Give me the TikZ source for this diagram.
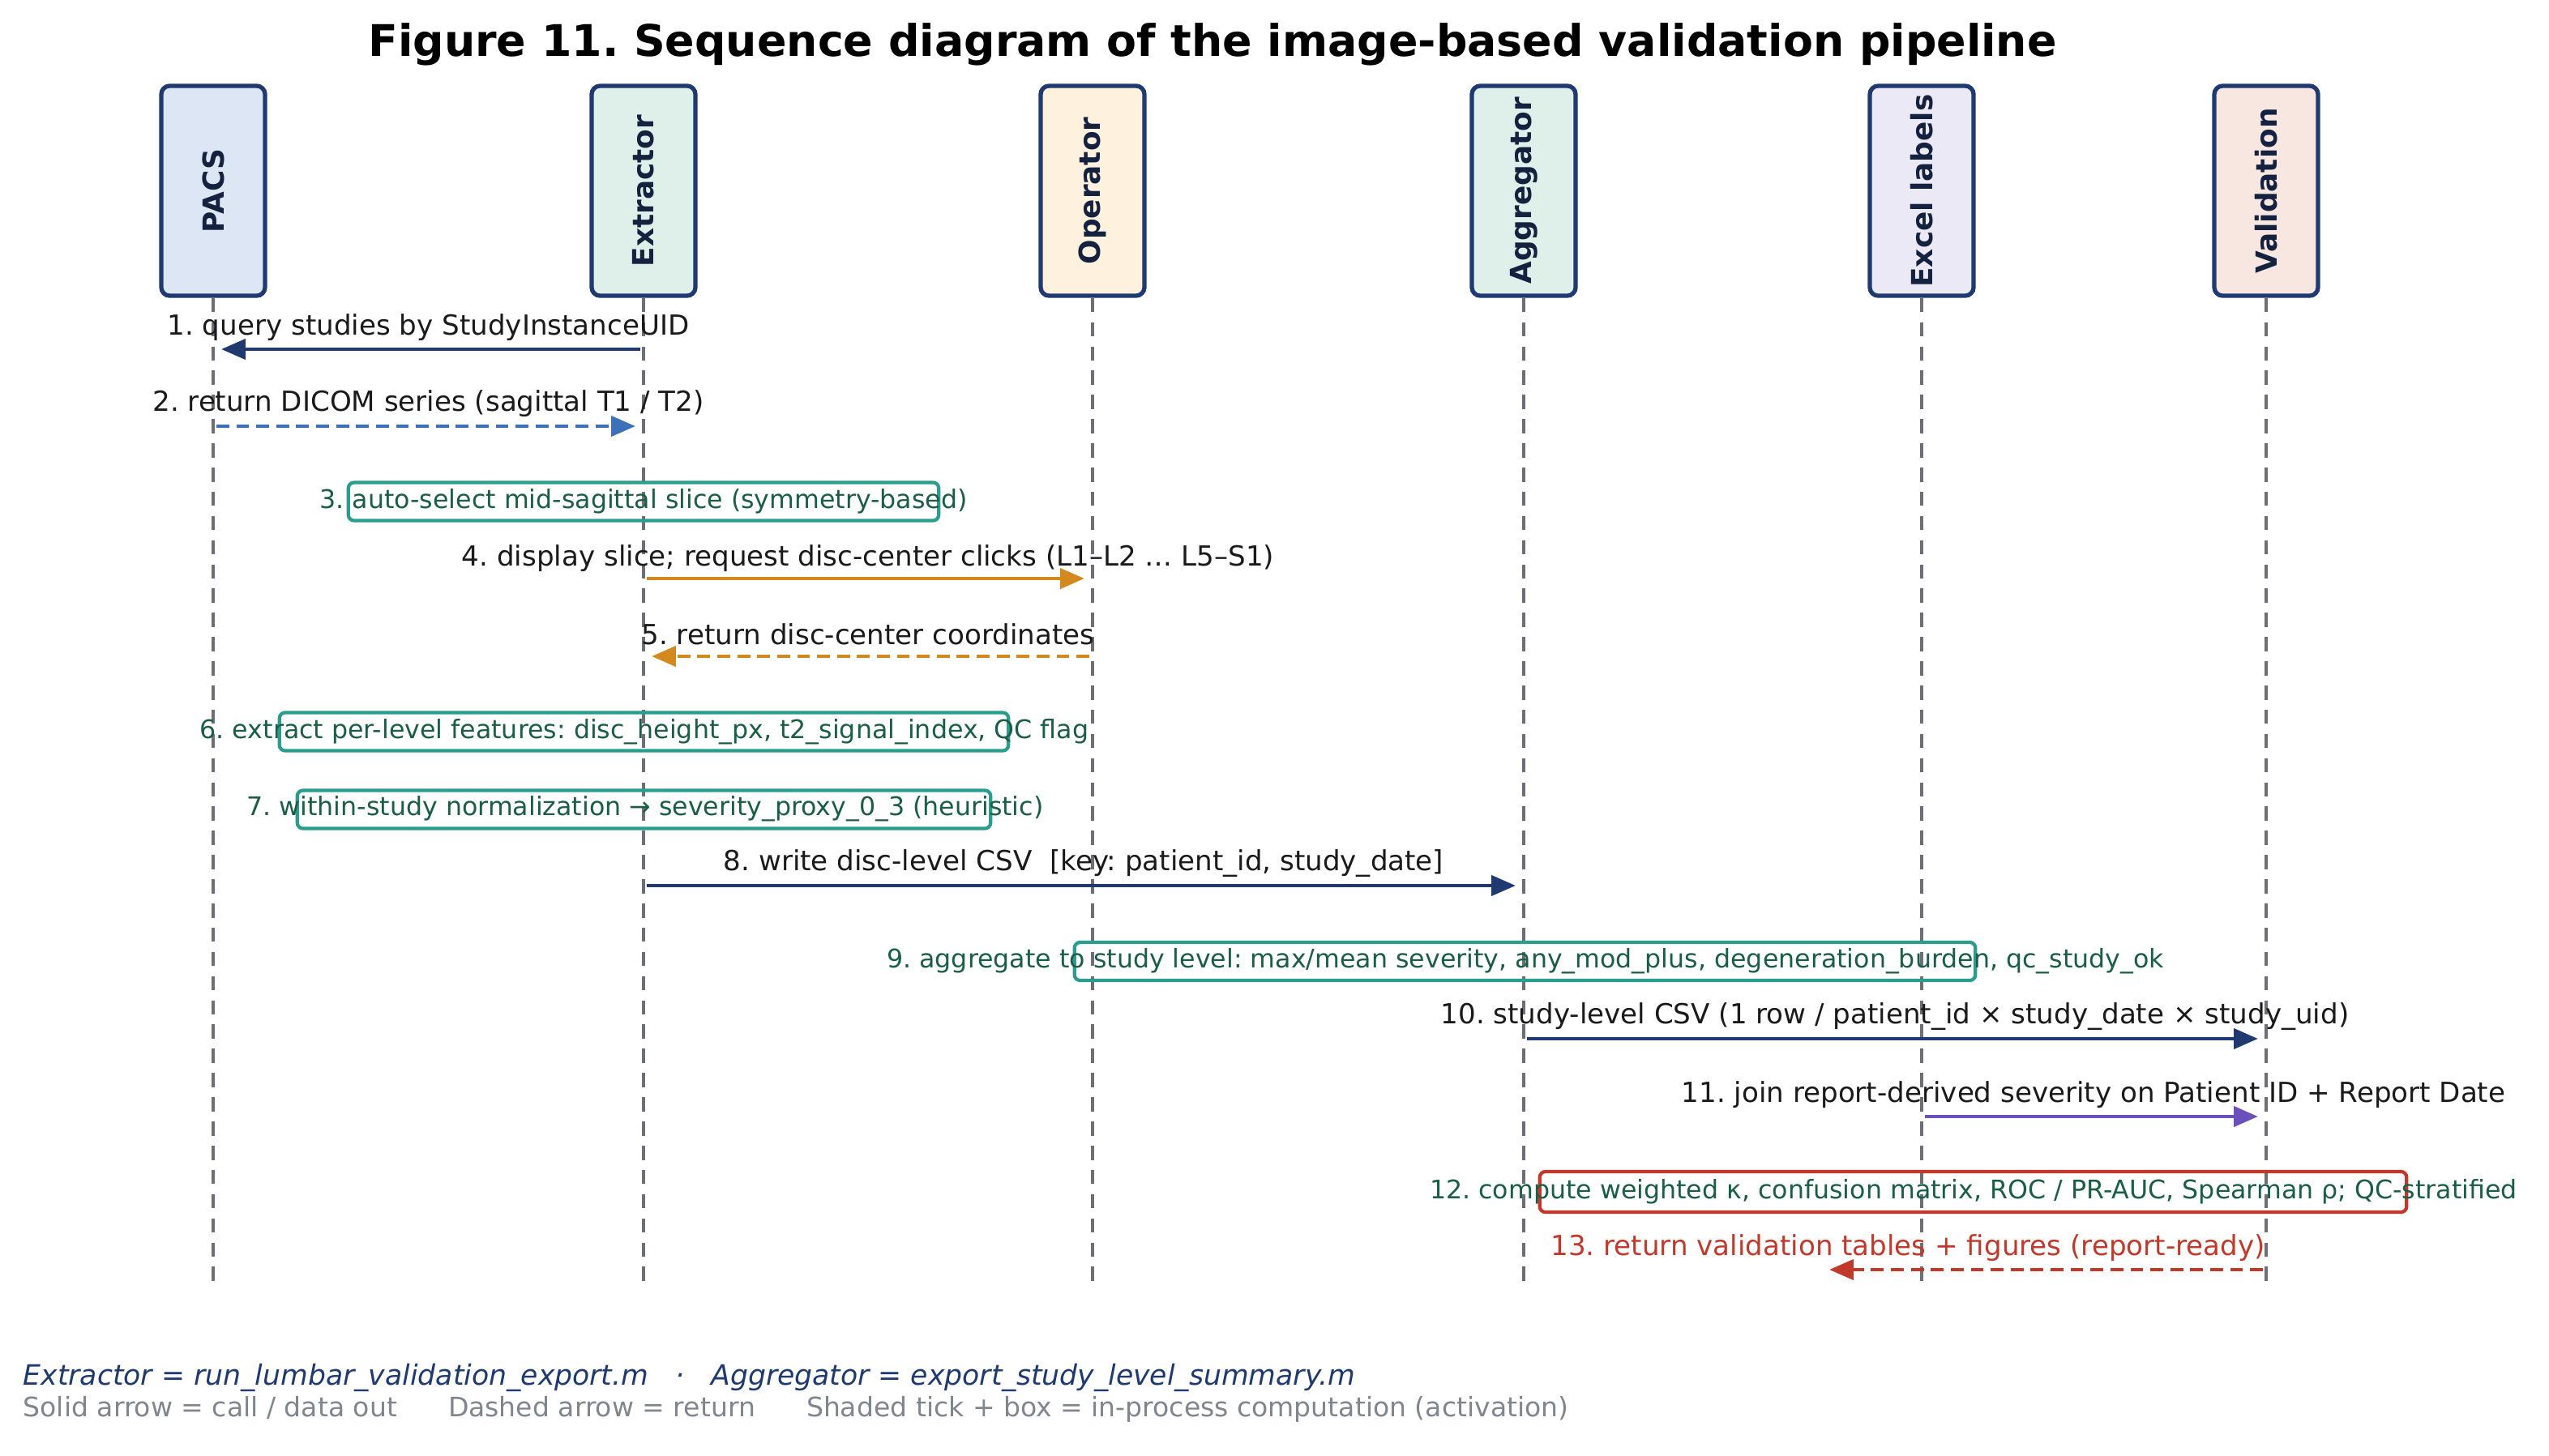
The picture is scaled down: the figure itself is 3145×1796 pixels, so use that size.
\documentclass[tikz,border=0pt]{standalone}
\usepackage{fontspec}
\setmainfont{DejaVu Sans}
\usetikzlibrary{arrows.meta}
\frenchspacing
\definecolor{navy}{HTML}{1F3A70}
\definecolor{fpacs}{HTML}{DCE6F4}
\definecolor{fext}{HTML}{DFF0EA}
\definecolor{fop}{HTML}{FEF2DF}
\definecolor{fexc}{HTML}{ECE9F6}
\definecolor{fval}{HTML}{F8E6E1}
\definecolor{tealc}{HTML}{2A9D8F}
\definecolor{greentxt}{HTML}{1B5E46}
\definecolor{orangec}{HTML}{D4891E}
\definecolor{bluec}{HTML}{3C70B8}
\definecolor{purplec}{HTML}{6B4FBB}
\definecolor{redc}{HTML}{C0392B}
\definecolor{lifec}{HTML}{6E6E78}
\definecolor{footgray}{HTML}{80868E}
\definecolor{txt}{HTML}{1A1A1A}
\definecolor{actortxt}{HTML}{15223F}
\begin{document}
\begin{tikzpicture}[x=0.01cm,y=-0.01cm,
  actor/.style={draw=navy, line width=1.5pt, rounded corners=3pt, rotate=90,
    minimum width=2.59cm, minimum height=1.28cm, inner sep=0pt,
    font=\fontsize{10.2}{12}\selectfont\bfseries, text=actortxt},
  lifeline/.style={draw=lifec, line width=0.9pt, dash pattern=on 5pt off 3.5pt},
  msg/.style={font=\fontsize{9.7}{11}\selectfont, text=txt, inner sep=0pt},
  acttxt/.style={font=\fontsize{9}{10}\selectfont, text=greentxt, inner sep=0pt},
  actbox/.style={draw=tealc, line width=1.2pt, rounded corners=2pt, minimum height=0.47cm, inner sep=0pt},
  call/.style={line width=1.4pt, -{Triangle[length=8.5pt,width=7pt]}, shorten <=0.04cm, shorten >=0.1cm},
  ret/.style={call, dash pattern=on 4.5pt off 2.5pt}
]
\useasboundingbox (0,0) rectangle (3145,1796);
\fill[white] (0,0) rectangle (3145,1796);

% title
\node[font=\fontsize{15.3}{18}\selectfont\bfseries, text=black] (title) at (1496,55)
  {Figure 11. Sequence diagram of the image-based validation pipeline};

% actors
\node[actor, fill=fpacs] (pacs) at (263,235.5) {PACS};
\node[actor, fill=fext] (ext) at (794,235.5) {Extractor};
\node[actor, fill=fop] (op) at (1348,235.5) {Operator};
\node[actor, fill=fext] (agg) at (1880,235.5) {Aggregator};
\node[actor, fill=fexc] (exc) at (2371,235.5) {Excel labels};
\node[actor, fill=fval] (val) at (2796,235.5) {Validation};

% lifelines
\coordinate (pacsE) at (263,1591);
\coordinate (extE) at (794,1591);
\coordinate (opE) at (1348,1591);
\coordinate (aggE) at (1880,1591);
\coordinate (excE) at (2371,1591);
\coordinate (valE) at (2796,1591);
\draw[lifeline] (pacs.west) -- (pacsE);
\draw[lifeline] (ext.west) -- (extE);
\draw[lifeline] (op.west) -- (opE);
\draw[lifeline] (agg.west) -- (aggE);
\draw[lifeline] (exc.west) -- (excE);
\draw[lifeline] (val.west) -- (valE);

% 1
\coordinate (e1) at (794,431); \coordinate (p1) at (263,431);
\draw[call, navy] (e1) -- (p1);
\node[msg] (m1) at (528.5,404) {1. query studies by StudyInstanceUID};
% 2
\coordinate (p2) at (263,526); \coordinate (e2) at (794,526);
\draw[ret, bluec] (p2) -- (e2);
\node[msg] (m2) at (528.5,498) {2. return DICOM series (sagittal T1 / T2)};
% 3
\node[actbox, minimum width=7.28cm] (b3) at (794,619) {};
\node[acttxt] (t3) at (794,619) {3. auto-select mid-sagittal slice (symmetry-based)};
% 4
\coordinate (e4) at (794,714); \coordinate (o4) at (1348,714);
\draw[call, orangec] (e4) -- (o4);
\node[msg] (m4) at (1071,689) {4. display slice; request disc-center clicks (L1–L2 … L5–S1)};
% 5
\coordinate (o5) at (1348,810); \coordinate (e5) at (794,810);
\draw[ret, orangec] (o5) -- (e5);
\node[msg] (m5) at (1071,783) {5. return disc-center coordinates};
% 6
\node[actbox, minimum width=8.99cm] (b6) at (794.5,903) {};
\node[acttxt] (t6) at (795,903) {6. extract per-level features: disc\_height\_px, t2\_signal\_index, QC flag};
% 7
\node[actbox, minimum width=8.55cm] (b7) at (794.5,999) {};
\node[acttxt] (t7) at (796,998) {7. within-study normalization → severity\_proxy\_0\_3 (heuristic)};
% 8
\coordinate (e8) at (794,1093); \coordinate (a8) at (1880,1093);
\draw[call, navy] (e8) -- (a8);
\node[msg] (m8) at (1337,1066) {8. write disc-level CSV\ \ [key: patient\_id, study\_date]};
% 9
\node[actbox, minimum width=11.11cm] (b9) at (1881.5,1186.5) {};
\node[acttxt] (t9) at (1882,1186) {9. aggregate to study level: max/mean severity, any\_mod\_plus, degeneration\_burden, qc\_study\_ok};
% 10
\coordinate (a10) at (1880,1282); \coordinate (v10) at (2796,1282);
\draw[call, navy] (a10) -- (v10);
\node[msg] (m10) at (2338,1255) {10. study-level CSV (1 row / patient\_id × study\_date × study\_uid)};
% 11
\coordinate (x11) at (2371,1378); \coordinate (v11) at (2796,1378);
\draw[call, purplec] (x11) -- (v11);
\node[msg] (m11) at (2583,1351) {11. join report-derived severity on Patient ID + Report Date};
% 12
\node[actbox, draw=redc, minimum width=10.69cm, minimum height=0.5cm] (b12) at (2434.5,1471) {};
\node[acttxt] (t12) at (2435,1471) {12. compute weighted κ, confusion matrix, ROC / PR-AUC, Spearman ρ; QC-stratified};
% 13
\coordinate (v13) at (2796,1567); \coordinate (r13) at (2257,1567);
\draw[ret, redc, shorten >=0pt] (v13) -- (r13);
\node[msg, text=redc] (m13) at (2354,1540) {13. return validation tables + figures (report-ready)};

% footer
\node[anchor=west, inner sep=0pt, font=\fontsize{9.85}{11}\selectfont\itshape, text=navy] (f1) at (28,1700)
  {Extractor = run\_lumbar\_validation\_export.m\ \ \ ·\ \ \ Aggregator = export\_study\_level\_summary.m};
\node[anchor=west, inner sep=0pt, font=\fontsize{9.4}{11}\selectfont, text=footgray] (f2) at (28,1739)
  {Solid arrow = call / data out\ \ \ \ \ \ Dashed arrow = return\ \ \ \ \ \ Shaded tick + box = in-process computation (activation)};
\end{tikzpicture}
\end{document}
